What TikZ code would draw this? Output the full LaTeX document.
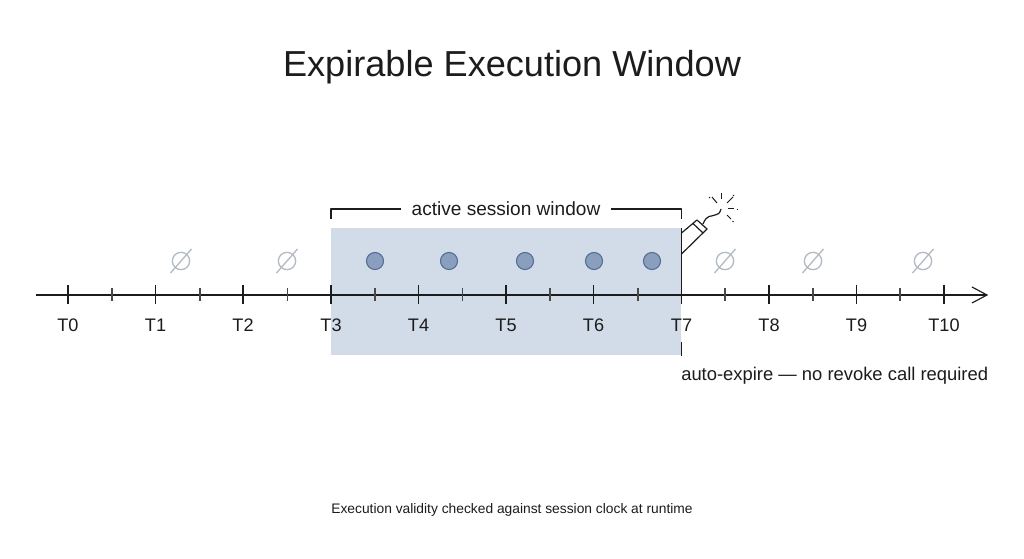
\documentclass[tikz,border=0pt]{standalone}
\usepackage{fontspec}
\setmainfont{Liberation Sans}
\definecolor{ink}{HTML}{1C1C1C}
\definecolor{win}{HTML}{D2DCE9}
\definecolor{dotf}{HTML}{8A9FBE}
\definecolor{dots}{HTML}{526C92}
\definecolor{nul}{HTML}{B4BBC3}
\tikzset{
  x=0.75pt,y=-0.75pt,
  axisline/.style={draw=ink,line width=0.85pt},
  majortick/.style={draw=ink,line width=0.8pt},
  minortick/.style={draw=ink!80,line width=0.8pt},
  ticklabel/.style={font=\fontsize{13.6}{16}\selectfont,text=ink,inner sep=0pt},
  sessiondot/.style={circle,draw=dots,fill=dotf,line width=0.8pt,minimum size=12.8pt,inner sep=0pt},
  nullcircle/.style={circle,draw=nul,line width=1pt,minimum size=13pt,inner sep=0pt},
  nullslash/.style={draw=nul,line width=1pt},
  bombline/.style={draw=ink,line width=0.9pt,line join=round},
  spark/.style={draw=ink,line width=0.75pt},
}
\begin{document}
\begin{tikzpicture}
\useasboundingbox (0,0) rectangle (1024,559);
\fill[white] (0,0) rectangle (1024,559);
\node[font=\fontsize{27.1}{32}\selectfont,text=ink,inner sep=0pt] (title) at (512,67) {Expirable Execution Window};
% window
\node[draw=none,fill=win,minimum width=262.5pt,minimum height=95.25pt,inner sep=0pt,anchor=north west] (window) at (331,228) {};
% axis
\coordinate (axisstart) at (36,295);
\coordinate (axisend) at (987,295);
\draw[axisline] (axisstart) -- (axisend);
\draw[axisline,line join=miter] (972,287) -- (axisend) -- (972,303);
% ticks and labels
\foreach \n/\x in {0/68,1/155.5,2/243,3/331,4/418.5,5/506,6/593.5,7/681.5,8/769,9/856.5,10/944}{
  \draw[majortick] (\x,285) -- (\x,304);
  \node[ticklabel] (T\n) at (\x,325) {T\n};
}
\foreach \x in {112,200,287.5,375,462.5,550,638,725,813,900}{
  \draw[minortick] (\x,288.5) -- (\x,301.5);
}
% expiry line
\draw[draw=ink,line width=1pt] (681.5,228) -- (681.5,304);
\draw[draw=ink,line width=1pt] (681.5,342) -- (681.5,356);
% bracket
\node[font=\fontsize{14.3}{16}\selectfont,text=ink,inner sep=0pt] (winlabel) at (506,209) {active session window};
\draw[bombline] (331,219) -- (331,209) -- (401,209);
\draw[bombline] (611,209) -- (681.5,209) -- (681.5,219);
% dots
\foreach \n/\x in {1/375,2/449,3/525,4/594,5/652}{
  \node[sessiondot] (d\n) at (\x,261) {};
}
% nulls
\foreach \n/\x in {1/181,2/287,3/725,4/813,5/923}{
  \node[nullcircle] (n\n) at (\x,261) {};
  \draw[nullslash] (\x-10.5,261+12) -- (\x+10.5,261-12);
}
% bomb
\draw[bombline] (681.5,233) -- (697,220) -- (707,229) -- (681.5,254);
\draw[bombline] (693,223.5) -- (703,233);
\draw[bombline] (703,224) .. controls (707,214) and (711,217) .. (715,215) .. controls (719,214) and (721,212) .. (721,209);
\draw[spark] (721,193) -- (721,199);
\draw[spark] (712,197) -- (717,203);
\draw[spark] (733,197) -- (727,203);
\draw[spark] (728,209) -- (734,209);
\draw[spark] (737,209.5) -- (738,209.5);
\draw[spark] (727,215) -- (731,219);
\draw[spark] (732.5,221) -- (733.5,222);
\draw[spark] (709,197) -- (710,198);
\draw[spark] (733,196) -- (734,195);
% notes
\node[font=\fontsize{13.8}{16}\selectfont,text=ink,inner sep=0pt,anchor=west] (expire) at (681,376) {auto-expire — no revoke call required};
\node[font=\fontsize{10.35}{12}\selectfont,text=ink,inner sep=0pt] (caption) at (512,510) {Execution validity checked against session clock at runtime};
\end{tikzpicture}
\end{document}
